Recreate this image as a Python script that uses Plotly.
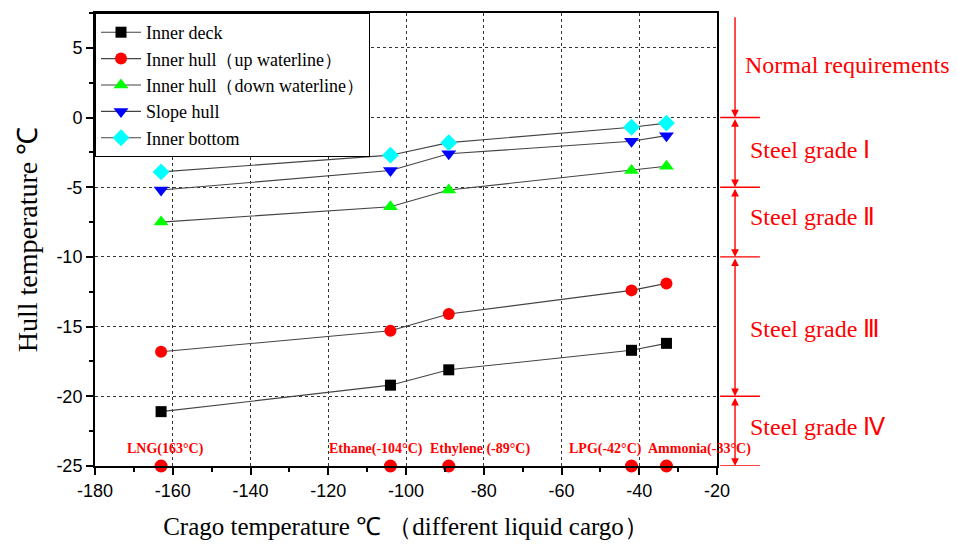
import plotly.graph_objects as go

# ---- data ----
cargo_names = ["LNG(163°C)", "Ethane(-104°C)", "Ethylene (-89°C)", "LPG(-42°C)", "Ammonia(-33°C)"]
cargo_temp = [-163, -104, -89, -42, -33]

inner_deck = [-21.1, -19.2, -18.1, -16.7, -16.2]
inner_hull_up = [-16.8, -15.3, -14.1, -12.4, -11.9]
inner_hull_down = [-7.5, -6.4, -5.2, -3.8, -3.5]
slope_hull = [-5.2, -3.8, -2.6, -1.7, -1.3]
inner_bottom = [-3.9, -2.7, -1.8, -0.7, -0.4]

series_names = ["Inner deck", "Inner hull（up waterline）", "Inner hull（down waterline）",
                "Slope hull", "Inner bottom"]
series_values = [inner_deck, inner_hull_up, inner_hull_down, slope_hull, inner_bottom]

grade_labels = ["Normal requirements", "Steel grade Ⅰ", "Steel grade Ⅱ", "Steel grade Ⅲ", "Steel grade Ⅳ"]
grade_bounds = [7.3, 0, -5, -10, -20, -25]
grade_label_y = [3.8, -2.3, -7.1, -15.2, -22.2]
baseline_value = -25

x_ticks = [-180, -160, -140, -120, -100, -80, -60, -40, -20]
y_ticks = [-25, -20, -15, -10, -5, 0, 5]

# ---- styles ----
colors = ["#000000", "#ff0000", "#00ff00", "#0000ff", "#00ffff"]
symbols = ["square", "circle", "triangle-up", "triangle-down", "diamond"]
sizes = [11, 12, 13, 13, 13]
label_shift = [4, -14, 31, -26, 33]
serif = "Liberation Serif"

fig = go.Figure()
for name, vals, c, s, sz in zip(series_names, series_values, colors, symbols, sizes):
    fig.add_trace(go.Scatter(
        x=cargo_temp, y=vals, name=name, mode="lines+markers",
        line=dict(color="#444444", width=1.1),
        marker=dict(color=c, symbol=s, size=sz, line=dict(width=0)),
    ))

fig.add_trace(go.Scatter(
    x=cargo_temp, y=[baseline_value] * len(cargo_temp), mode="markers",
    marker=dict(color="#ff0000", size=13), showlegend=False, cliponaxis=False,
))

annotations = []
for name, xv, sh in zip(cargo_names, cargo_temp, label_shift):
    annotations.append(dict(
        x=xv, y=-23.8, xref="x", yref="y", text="<b>" + name + "</b>", showarrow=False,
        xshift=sh, font=dict(family=serif, size=14, color="#ff0000"),
    ))

# grade arrows on the right
xa = 1.029
for i in range(len(grade_labels)):
    top, bot = grade_bounds[i], grade_bounds[i + 1]
    annotations.append(dict(
        x=xa, y=bot, xref="paper", yref="y", ax=0, ay=top, axref="pixel", ayref="y",
        text="", showarrow=True, arrowhead=2, arrowsize=1.1, arrowwidth=1.4,
        arrowcolor="#ff0000", arrowside="end" if i == 0 else "end+start",
        standoff=0, startstandoff=0,
    ))
    annotations.append(dict(
        x=1.042 if i == 0 else 1.05, y=grade_label_y[i], xref="paper", yref="y", xanchor="left",
        text=grade_labels[i], showarrow=False,
        font=dict(family=serif, size=24, color="#ff0000"),
    ))

shapes = []
for b in grade_bounds[1:]:
    shapes.append(dict(type="line", xref="paper", yref="y", x0=1.005, x1=1.069, y0=b, y1=b,
                       line=dict(color="#ff0000", width=1.4)))

fig.update_layout(
    width=949, height=540,
    margin=dict(l=87, r=240, t=3, b=82),
    paper_bgcolor="white", plot_bgcolor="white",
    showlegend=True,
    legend=dict(x=0, y=1, xanchor="left", yanchor="top", bgcolor="white",
                bordercolor="black", borderwidth=1,
                font=dict(family=serif, size=18, color="black"),
                itemwidth=40, tracegroupgap=0),
    annotations=annotations, shapes=shapes,
    xaxis=dict(
        range=[-180, -20], tickvals=x_ticks, ticktext=[str(v) for v in x_ticks],
        showline=True, linecolor="black", linewidth=2, mirror=True,
        ticks="outside", ticklen=7, tickwidth=2, tickcolor="black",
        minor=dict(dtick=10, ticks="outside", ticklen=4, tickwidth=2, tickcolor="black"),
        showgrid=True, gridcolor="#333333", griddash="dot", gridwidth=1,
        zeroline=False,
        tickfont=dict(family="Liberation Sans", size=18, color="black"),
        title=dict(text="Crago temperature ℃ （different liquid cargo）",
                   font=dict(family=serif, size=25, color="black"), standoff=18),
    ),
    yaxis=dict(
        range=[-25, 7.5], tickvals=y_ticks, ticktext=[str(v) for v in y_ticks],
        showline=True, linecolor="black", linewidth=2, mirror=True,
        ticks="outside", ticklen=7, tickwidth=2, tickcolor="black",
        minor=dict(dtick=2.5, ticks="outside", ticklen=4, tickwidth=2, tickcolor="black"),
        showgrid=True, gridcolor="#333333", griddash="dot", gridwidth=1,
        zeroline=False,
        tickfont=dict(family="Liberation Sans", size=18, color="black"),
        title=dict(text="Hull temperature ℃",
                   font=dict(family=serif, size=28, color="black"), standoff=11),
    ),
)

fig.write_html("out.html")
